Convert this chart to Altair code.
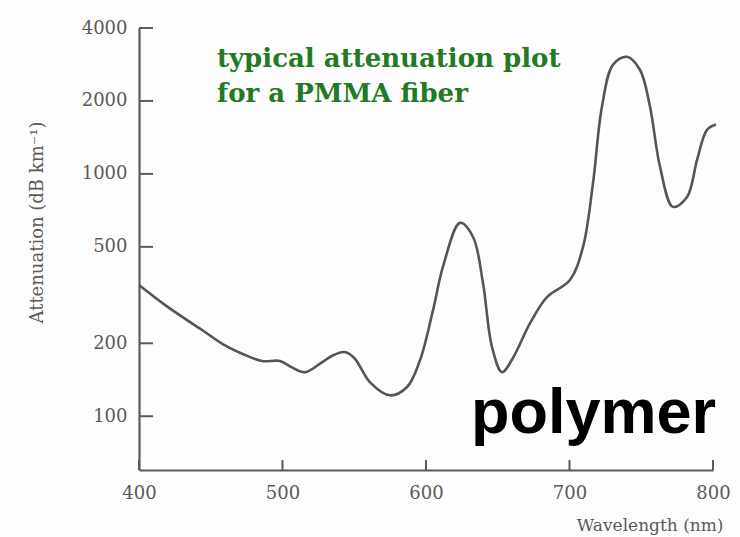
import altair as alt
import pandas as pd

# Attenuation spectrum of a PMMA fibre
wavelength = [400, 420.2, 443.9, 459.9, 473.9, 485.7, 498.3, 506.6, 515.7, 527.5,
              535.0, 543.0, 550.0, 561.0, 574.9, 586.8, 595.8, 604.9, 611.8, 623.7,
              632.8, 639.7, 646.0, 653.0, 660.6, 672.5, 684.3, 700.3, 709.4, 716.4,
              722.6, 730.3, 740.0, 749.1, 756.1, 763.1, 772.1, 781.9, 788.9, 795.8,
              802.0]
attenuation = [348, 282, 227, 196, 179, 169, 169, 159, 152, 167,
               178, 184, 174, 138, 122, 132, 170, 274, 413, 628,
               549, 355, 193, 152, 174, 242, 310, 365, 499, 918,
               1892, 2820, 3043, 2690, 1892, 1069, 731, 803, 1142, 1520,
               1600]

x_ticks = [400, 500, 600, 700, 800]
y_ticks = [100, 200, 500, 1000, 2000, 4000]

W, H = 574, 442
GREY = "#5a5a5a"
SERIF = "DejaVu Serif"

df = pd.DataFrame({"wl": wavelength, "att": attenuation})

x_scale = alt.Scale(domain=[400, 800], nice=False, zero=False)
y_scale = alt.Scale(type="log", domain=[60, 4000], nice=False)

curve = alt.Chart(df).mark_line(
    interpolate="catmull-rom", color="#555555", strokeWidth=2.6, clip=False
).encode(
    x=alt.X("wl:Q", scale=x_scale, axis=alt.Axis(
        values=x_ticks, ticks=False, tickSize=0, grid=False, format="d",
        domainColor=GREY, domainWidth=2.2,
        labelFont=SERIF, labelFontSize=18, labelColor=GREY, labelPadding=14,
        title="Wavelength (nm)", titleFont=SERIF, titleFontSize=17,
        titleFontWeight="normal", titleColor=GREY,
        titleX=584, titleY=55, titleAlign="right", titleBaseline="middle",
        labelFlush=False,
    )),
    y=alt.Y("att:Q", scale=y_scale, axis=alt.Axis(
        values=y_ticks, ticks=False, tickSize=0, grid=False, format="d",
        domainColor=GREY, domainWidth=2.2,
        labelFont=SERIF, labelFontSize=18, labelColor=GREY, labelPadding=12,
        title="Attenuation (dB km⁻¹)", titleFont=SERIF, titleFontSize=18,
        titleFontWeight="normal", titleColor=GREY,
        titleX=-102, titleY=194, titleAngle=-90, titleAlign="center",
        titleBaseline="middle", labelFlush=False,
    )),
)

# inward-facing tick marks
yt = alt.Chart(pd.DataFrame({"v": y_ticks})).mark_rule(
    color=GREY, strokeWidth=2
).encode(
    y=alt.Y("v:Q", scale=y_scale),
    x=alt.value(0), x2=alt.value(14),
)
xt = alt.Chart(pd.DataFrame({"v": x_ticks})).mark_rule(
    color=GREY, strokeWidth=2
).encode(
    x=alt.X("v:Q", scale=x_scale),
    y=alt.value(H), y2=alt.value(H - 10),
)

note = alt.Chart(pd.DataFrame({"t": [0]})).mark_text(
    font=SERIF, fontWeight="bold", fontSize=26, color="#237a23",
    align="left", baseline="alphabetic", lineHeight=35,
).encode(
    x=alt.value(78), y=alt.value(39),
    text=alt.value(["typical attenuation plot", "for a PMMA fiber"]),
)

tag = alt.Chart(pd.DataFrame({"t": [0]})).mark_text(
    font="Liberation Sans", fontWeight="bold", fontSize=63, color="#000000",
    align="left", baseline="alphabetic",
).encode(
    x=alt.value(332), y=alt.value(405),
    text=alt.value("polymer"),
)

chart = alt.layer(curve, yt, xt, note, tag).properties(
    width=W, height=H,
    autosize=alt.AutoSizeParams(type="none"),
    padding={"left": 139, "top": 28, "right": 27, "bottom": 67},
    background="#fdfdfd",
).configure_view(stroke=None)

chart.save("out.html", embed_options={"renderer": "svg", "actions": False})
